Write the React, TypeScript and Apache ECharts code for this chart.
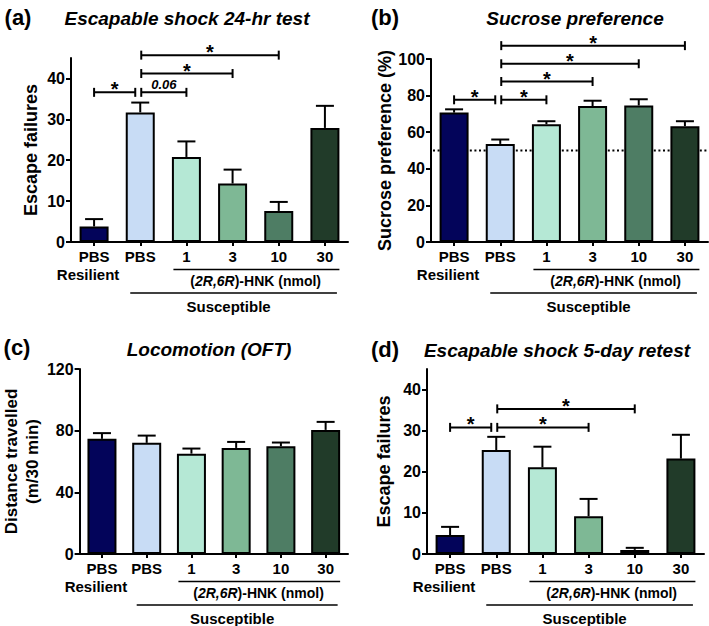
import React, { useEffect, useRef } from 'react';
import * as echarts from 'echarts';

const FONT = "'Liberation Sans', Arial, Helvetica, sans-serif";

// ---------- data ----------
const categories = ['PBS', 'PBS', '1', '3', '10', '30'];
const barColors = ['#03045a', '#c8dcf5', '#b5e8d5', '#7eb895', '#4e7d64', '#213b29'];

const escape24Mean = [3.8, 31.7, 20.8, 14.3, 7.6, 27.9];
const escape24Err = [5.6, 34.1, 24.6, 17.7, 9.8, 33.3];
const sucroseMean = [70.7, 53.6, 64.4, 74.3, 74.6, 63.3];
const sucroseErr = [72.5, 56.0, 66.0, 77.2, 78.0, 66.0];
const locomotionMean = [74.7, 72.1, 65.1, 68.8, 69.9, 80.5];
const locomotionErr = [78.4, 76.8, 68.4, 72.7, 72.3, 85.7];
const escape5Mean = [4.6, 25.3, 21.1, 9.2, 1.0, 23.2];
const escape5Err = [6.6, 28.5, 26.1, 13.4, 1.5, 29.0];

// [from category, to category, bracket height, label]
const escape24Brackets: [number, number, number, string][] = [
  [0, 1, 36.6, '*'],
  [1, 2, 36.6, '0.06'],
  [1, 3, 41.2, '*'],
  [1, 4, 45.7, '*'],
];
const sucroseBrackets: [number, number, number, string][] = [
  [0, 1, 77.7, '*'],
  [1, 2, 77.7, '*'],
  [1, 3, 87.7, '*'],
  [1, 4, 97.4, '*'],
  [1, 5, 107.3, '*'],
];
const escape5Brackets: [number, number, number, string][] = [
  [0, 1, 30.8, '*'],
  [1, 3, 30.8, '*'],
  [1, 4, 35.3, '*'],
];

const sucroseChanceLevel = 50;

const escapeTicks = [0, 10, 20, 30, 40];
const sucroseTicks = [0, 20, 40, 60, 80, 100];
const locomotionTicks = [0, 40, 80, 120];

const resilientGroup = 0;
const hnkGroup = [2, 5];
const susceptibleGroup = [1, 5];

const panelTitles = ['Escapable shock 24-hr test', 'Sucrose preference', 'Locomotion (OFT)', 'Escapable shock 5-day retest'];
const panelLetters = ['(a)', '(b)', '(c)', '(d)'];
const yNames = ['Escape failures', 'Sucrose preference (%)', 'Distance travelled\n(m/30 min)', 'Escape failures'];

// ---------- helpers ----------
const grids = [
  { left: 71, top: 58, width: 277, height: 184 },
  { left: 431, top: 59, width: 277, height: 183 },
  { left: 71, top: 369, width: 277, height: 185 },
  { left: 427, top: 369, width: 277, height: 185 },
];

const black = '#000';

function xAxis(i: number) {
  return {
    type: 'category',
    gridIndex: i,
    data: categories,
    axisLine: { show: true, lineStyle: { color: black, width: 2 } },
    axisTick: { show: true, alignWithLabel: true, length: 4, lineStyle: { color: black, width: 2 } },
    axisLabel: {
      interval: 0,
      margin: 7,
      fontFamily: FONT,
      fontWeight: 'bold',
      fontSize: 15,
      color: black,
    },
    splitLine: { show: false },
  };
}

function yAxis(i: number, max: number, ticks: number[], nameGap: number, nameSize: number, nameLH?: number) {
  return {
    type: 'value',
    gridIndex: i,
    min: 0,
    max,
    interval: ticks[1] - ticks[0],
    name: yNames[i],
    nameLocation: 'middle',
    nameGap,
    nameTextStyle: {
      fontFamily: FONT,
      fontWeight: 'bold',
      fontSize: nameSize,
      color: black,
      lineHeight: nameLH,
    },
    axisLine: { show: true, lineStyle: { color: black, width: 2 } },
    axisTick: { show: true, length: 5, lineStyle: { color: black, width: 2 }, customValues: ticks },
    axisLabel: {
      margin: 6,
      color: black,
      fontFamily: FONT,
      fontWeight: 'bold',
      fontSize: 16,
      customValues: ticks,
    },
    splitLine: { show: false },
  };
}

function barSeries(i: number, means: number[]) {
  return {
    type: 'bar',
    xAxisIndex: i,
    yAxisIndex: i,
    barWidth: 29,
    z: 2,
    data: means.map((v, k) => ({ value: v, itemStyle: { color: barColors[k] } })),
    itemStyle: { borderColor: black, borderWidth: 2 },
    emphasis: { disabled: true },
  };
}

function errorSeries(i: number, means: number[], errs: number[]) {
  return {
    type: 'custom',
    xAxisIndex: i,
    yAxisIndex: i,
    z: 3,
    clip: false,
    encode: { x: 0, y: [1, 2] },
    data: means.map((m, k) => [k, m, errs[k]]),
    renderItem: (params: any, api: any) => {
      const base = api.coord([api.value(0), api.value(1)]);
      const top = api.coord([api.value(0), api.value(2)]);
      const hw = 9;
      return {
        type: 'group',
        children: [
          { type: 'line', shape: { x1: base[0], y1: base[1], x2: top[0], y2: top[1] }, style: { stroke: black, lineWidth: 2 } },
          { type: 'line', shape: { x1: top[0] - hw, y1: top[1], x2: top[0] + hw, y2: top[1] }, style: { stroke: black, lineWidth: 2 } },
        ],
      };
    },
  };
}

function bracketSeries(i: number, brackets: [number, number, number, string][]) {
  return {
    type: 'custom',
    xAxisIndex: i,
    yAxisIndex: i,
    z: 4,
    clip: false,
    encode: { x: [0, 1], y: 2 },
    data: brackets.map((b) => [b[0], b[1], b[2]]),
    renderItem: (params: any, api: any) => {
      const from = api.value(0);
      const to = api.value(1);
      const y = api.value(2);
      const label = brackets[params.dataIndex][3];
      const p1 = api.coord([from, y]);
      const p2 = api.coord([to, y]);
      const x1 = p1[0] + (from === 1 ? 1 : 0);
      const x2 = p2[0] - (to === 1 ? 5 : 0);
      const yy = p1[1];
      const cap = 4.5;
      const isStar = label === '*';
      return {
        type: 'group',
        children: [
          { type: 'line', shape: { x1, y1: yy, x2, y2: yy }, style: { stroke: black, lineWidth: 2 } },
          { type: 'line', shape: { x1, y1: yy - cap, x2: x1, y2: yy + cap }, style: { stroke: black, lineWidth: 2 } },
          { type: 'line', shape: { x1: x2, y1: yy - cap, x2, y2: yy + cap }, style: { stroke: black, lineWidth: 2 } },
          {
            type: 'text',
            x: (x1 + x2) / 2,
            y: isStar ? yy - 3 : yy - 8,
            style: {
              text: label,
              fill: black,
              fontFamily: FONT,
              fontWeight: 'bold',
              fontStyle: isStar ? 'normal' : 'italic',
              fontSize: isStar ? 20 : 13,
              align: 'center',
              verticalAlign: 'middle',
              textAlign: 'center',
              textVerticalAlign: 'middle',
            },
          },
        ],
      };
    },
  };
}

function groupSeries(i: number) {
  return {
    type: 'custom',
    xAxisIndex: i,
    yAxisIndex: i,
    z: 4,
    clip: false,
    encode: { x: [0, 1, 2, 3, 4], y: 5 },
    data: [[hnkGroup[0], hnkGroup[1], susceptibleGroup[0], susceptibleGroup[1], resilientGroup, 0]],
    renderItem: (params: any, api: any) => {
      const h0 = api.coord([api.value(0), 0]);
      const h1 = api.coord([api.value(1), 0]);
      const s0 = api.coord([api.value(2), 0]);
      const s1 = api.coord([api.value(3), 0]);
      const r0 = api.coord([api.value(4), 0]);
      const ax = h0[1];
      const hx1 = h0[0] - 13;
      const hx2 = h1[0] + 14.5;
      const sx1 = s0[0] - 10;
      const sx2 = s1[0] + 12;
      const common = {
        fill: black,
        fontFamily: FONT,
        fontWeight: 'bold',
        align: 'center',
        verticalAlign: 'middle',
        textAlign: 'center',
        textVerticalAlign: 'middle',
      };
      return {
        type: 'group',
        children: [
          {
            type: 'text',
            x: r0[0] - 6,
            y: ax + 32.5,
            style: { ...common, fontSize: 15, text: 'Resilient' },
          },
          { type: 'line', shape: { x1: hx1, y1: ax + 27.5, x2: hx2, y2: ax + 27.5 }, style: { stroke: black, lineWidth: 1.5 } },
          {
            type: 'text',
            x: (h0[0] + h1[0]) / 2,
            y: ax + 38.5,
            style: {
              ...common,
              fontSize: 14,
              text: '({i|2R,6R})-HNK (nmol)',
              rich: { i: { fontFamily: FONT, fontWeight: 'bold', fontStyle: 'italic', fontSize: 14, fill: black } },
            },
          },
          { type: 'line', shape: { x1: sx1, y1: ax + 51, x2: sx2, y2: ax + 51 }, style: { stroke: black, lineWidth: 1.5 } },
          {
            type: 'text',
            x: (s0[0] + s1[0]) / 2 - 4,
            y: ax + 64,
            style: { ...common, fontSize: 15, text: 'Susceptible' },
          },
        ],
      };
    },
  };
}

function chanceSeries(i: number) {
  return {
    type: 'custom',
    xAxisIndex: i,
    yAxisIndex: i,
    z: 1,
    clip: false,
    encode: { x: 0, y: 1 },
    data: [[0, sucroseChanceLevel]],
    renderItem: (params: any, api: any) => {
      const y = api.coord([0, api.value(1)])[1];
      const cs = params.coordSys;
      return {
        type: 'line',
        shape: { x1: cs.x + 2, y1: y, x2: cs.x + cs.width, y2: y },
        style: { stroke: black, lineWidth: 2, lineDash: [2, 2.6] },
      };
    },
  };
}

function textEl(text: string, x: number, y: number, size: number, italic: boolean) {
  return {
    type: 'text',
    x,
    y,
    style: {
      text,
      fill: black,
      fontFamily: FONT,
      fontWeight: 'bold',
      fontStyle: italic ? 'italic' : 'normal',
      fontSize: size,
      align: 'center',
      verticalAlign: 'middle',
      textAlign: 'center',
      textVerticalAlign: 'middle',
    },
  };
}

export default function App() {
  const ref = useRef<HTMLDivElement>(null);
  useEffect(() => {
    if (!ref.current) return;
    const chart = echarts.init(ref.current, null, { renderer: 'svg' });
    const option: any = {
      animation: false,
      backgroundColor: '#fff',
      grid: grids.map((g) => ({ ...g, containLabel: false })),
      xAxis: [0, 1, 2, 3].map((i) => xAxis(i)),
      yAxis: [
        yAxis(0, 45, escapeTicks, 31, 18),
        yAxis(1, 100, sucroseTicks, 37, 18),
        yAxis(2, 120, locomotionTicks, 28, 17, 21),
        yAxis(3, 45, escapeTicks, 34, 18),
      ],
      series: [
        chanceSeries(1),
        barSeries(0, escape24Mean),
        barSeries(1, sucroseMean),
        barSeries(2, locomotionMean),
        barSeries(3, escape5Mean),
        errorSeries(0, escape24Mean, escape24Err),
        errorSeries(1, sucroseMean, sucroseErr),
        errorSeries(2, locomotionMean, locomotionErr),
        errorSeries(3, escape5Mean, escape5Err),
        bracketSeries(0, escape24Brackets),
        bracketSeries(1, sucroseBrackets),
        bracketSeries(3, escape5Brackets),
        groupSeries(0),
        groupSeries(1),
        groupSeries(2),
        groupSeries(3),
      ],
      graphic: [
        textEl(panelLetters[0], 18, 17, 22, false),
        textEl(panelTitles[0], 187, 18, 19, true),
        textEl(panelLetters[1], 385, 17, 22, false),
        textEl(panelTitles[1], 575, 18, 19, true),
        textEl(panelLetters[2], 17, 347, 22, false),
        textEl(panelTitles[2], 209, 349, 19, true),
        textEl(panelLetters[3], 385, 349, 22, false),
        textEl(panelTitles[3], 557, 350, 19, true),
      ],
    };
    chart.setOption(option);
    return () => chart.dispose();
  }, []);
  return (
    <div
      ref={ref}
      style={{ position: 'fixed', left: 0, top: 0, width: 709, height: 626, background: '#fff' }}
    />
  );
}
